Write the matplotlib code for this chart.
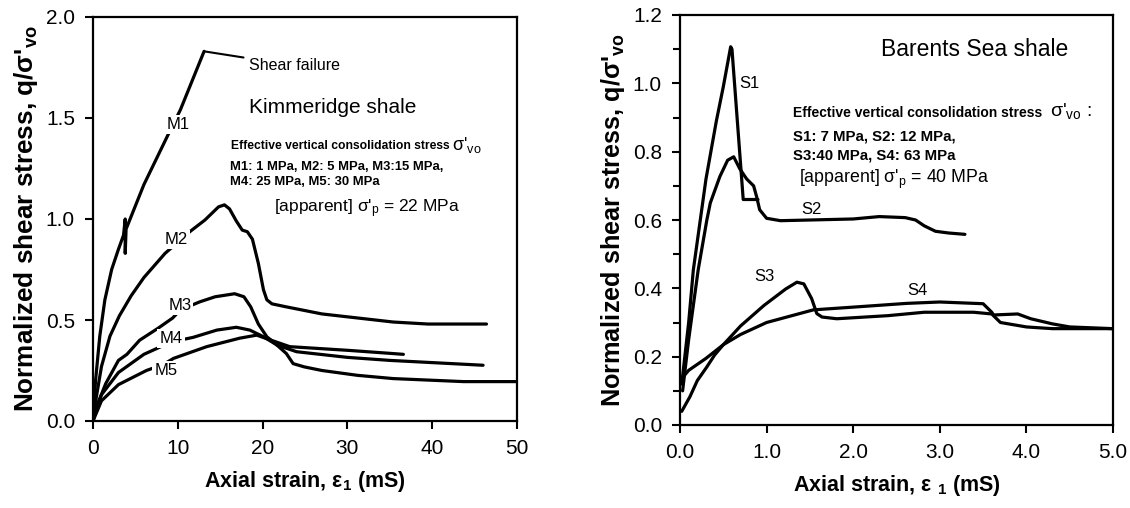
import matplotlib
matplotlib.use("Agg")
import matplotlib.pyplot as plt
from matplotlib.ticker import MultipleLocator

plt.rcParams['font.family'] = ['Liberation Sans', 'DejaVu Sans']
plt.rcParams['mathtext.fontset'] = 'custom'
plt.rcParams['mathtext.rm'] = 'Liberation Sans'
plt.rcParams['mathtext.it'] = 'Liberation Sans:italic'
plt.rcParams['mathtext.bf'] = 'Liberation Sans:bold'

# ---------------- Kimmeridge shale (left) ----------------
m1_x = [0, 0.3, 0.8, 1.4, 2.2, 3.0, 3.6, 3.8, 3.8, 3.9, 6.0, 9.0, 10.3, 13.1]
m1_y = [0, 0.20, 0.42, 0.60, 0.75, 0.85, 0.92, 1.00, 0.83, 0.95, 1.17, 1.43, 1.54, 1.83]

m2_x = [0, 0.4, 1.0, 2.0, 3.1, 4.5, 6.0, 8.5, 11.5, 13.2, 14.8, 15.5, 16.1, 16.9,
        17.6, 18.2, 18.8, 19.5, 20.1, 20.5, 21.1, 22.8, 27.0, 31.2, 35.4, 39.5, 46.4]
m2_y = [0, 0.12, 0.27, 0.42, 0.52, 0.62, 0.71, 0.83, 0.94, 0.995, 1.06, 1.07, 1.05, 0.99,
        0.945, 0.937, 0.90, 0.78, 0.65, 0.60, 0.58, 0.565, 0.53, 0.51, 0.49, 0.48, 0.48]

m3_x = [0, 0.5, 1.5, 3.0, 4.0, 5.5, 7.7, 9.4, 10.3, 12.6, 14.4, 16.7, 17.8, 18.6, 19.5,
        20.5, 21.5, 22.8, 23.6, 24.9, 27.0, 31.2, 35.4, 43.7, 50.0]
m3_y = [0, 0.08, 0.185, 0.30, 0.33, 0.40, 0.46, 0.51, 0.55, 0.59, 0.615, 0.63, 0.615, 0.565, 0.48,
        0.417, 0.383, 0.334, 0.284, 0.268, 0.25, 0.226, 0.21, 0.195, 0.195]

m4_x = [0, 0.5, 1.0, 3.0, 6.0, 8.1, 9.1, 11.8, 14.6, 16.9, 18.5, 20.1, 21.7, 24.0, 30.0, 35.0, 46.0]
m4_y = [0, 0.07, 0.13, 0.24, 0.33, 0.37, 0.39, 0.414, 0.45, 0.464, 0.45, 0.417, 0.376, 0.343, 0.315, 0.30, 0.276]

m5_x = [0, 0.5, 1.0, 3.0, 6.3, 8.3, 9.5, 13.4, 17.3, 19.3, 21.0, 23.2, 30.0, 35.0, 36.6]
m5_y = [0, 0.05, 0.10, 0.18, 0.25, 0.28, 0.31, 0.368, 0.41, 0.425, 0.40, 0.368, 0.35, 0.335, 0.33]

# ---------------- Barents Sea shale (right) ----------------
s1_x = [0.02, 0.1, 0.154, 0.3, 0.42, 0.5, 0.585, 0.6, 0.73, 0.9]
s1_y = [0.12, 0.30, 0.454, 0.72, 0.89, 0.99, 1.107, 1.10, 0.66, 0.66]

s2_x = [0.03, 0.1, 0.21, 0.31, 0.35, 0.46, 0.55, 0.62, 0.69, 0.77, 0.85, 0.885, 0.92, 1.0,
        1.16, 1.5, 2.0, 2.3, 2.6, 2.72, 2.82, 2.95, 3.1, 3.29]
s2_y = [0.10, 0.25, 0.454, 0.60, 0.65, 0.727, 0.775, 0.785, 0.75, 0.72, 0.70, 0.668, 0.63, 0.605,
        0.598, 0.60, 0.603, 0.61, 0.607, 0.60, 0.583, 0.567, 0.562, 0.558]

s3_x = [0.02, 0.115, 0.2, 0.31, 0.4, 0.5, 0.7, 0.97, 1.22, 1.35, 1.43, 1.52, 1.58, 1.64,
        1.81, 2.4, 2.82, 3.39, 3.6, 3.7, 4.0, 4.3, 5.0]
s3_y = [0.04, 0.083, 0.13, 0.17, 0.205, 0.235, 0.29, 0.35, 0.398, 0.418, 0.413, 0.37, 0.326, 0.316,
        0.311, 0.32, 0.33, 0.33, 0.325, 0.30, 0.287, 0.282, 0.282]

s4_x = [0.0, 0.1, 0.3, 0.5, 0.7, 1.0, 1.54, 2.0, 2.62, 3.0, 3.5, 3.6, 3.62, 3.9, 4.05, 4.3, 4.5, 5.0]
s4_y = [0.13, 0.16, 0.195, 0.235, 0.265, 0.30, 0.337, 0.345, 0.356, 0.36, 0.355, 0.33, 0.322, 0.325,
        0.311, 0.296, 0.287, 0.282]

left_xticks = [0, 10, 20, 30, 40, 50]
left_yticks = [0.0, 0.5, 1.0, 1.5, 2.0]
right_xticks = [0.0, 1.0, 2.0, 3.0, 4.0, 5.0]
right_yticks = [0.0, 0.2, 0.4, 0.6, 0.8, 1.0, 1.2]

fig = plt.figure(figsize=(11.3, 5.08), dpi=100)
axL = fig.add_axes([93/1130, 87/508, 424/1130, 404/508])
axR = fig.add_axes([680/1130, 83/508, 433/1130, 410/508])

LW = 2.3
lab_box = dict(facecolor='white', edgecolor='none', pad=1.5)

def style(ax):
    for s in ax.spines.values():
        s.set_linewidth(1.6)
    ax.tick_params(which='both', direction='out', width=1.5, labelsize=15, pad=7)
    ax.tick_params(which='major', length=6)
    ax.tick_params(which='minor', length=5)

# Left panel
for xs, ys in [(m1_x, m1_y), (m2_x, m2_y), (m3_x, m3_y), (m4_x, m4_y), (m5_x, m5_y)]:
    axL.plot(xs, ys, color='black', lw=LW, solid_joinstyle='round', solid_capstyle='round', zorder=2)
axL.set_xlim(0, 50)
axL.set_ylim(0, 2.0)
axL.set_xticks(left_xticks)
axL.set_xticklabels([f"{v:d}" for v in left_xticks])
axL.set_yticks(left_yticks)
axL.set_yticklabels([f"{v:.1f}" for v in left_yticks])
style(axL)
axL.set_xlabel(r"Axial strain, ε$_{\mathbf{1}}$ (mS)", fontsize=15.5, fontweight='bold', labelpad=8)
axL.set_ylabel(r"Normalized shear stress, q/σ'$_{\mathbf{vo}}$", fontsize=18.8, fontweight='bold', labelpad=4)

for name, (tx, ty) in {'M1': (10.0, 1.47), 'M2': (9.8, 0.90), 'M3': (10.25, 0.57),
                       'M4': (9.2, 0.41), 'M5': (8.6, 0.25)}.items():
    axL.text(tx, ty, name, fontsize=12, ha='center', va='center', bbox=lab_box, zorder=5)

axL.annotate("Shear failure", xy=(13.1, 1.83), xytext=(18.4, 1.76), fontsize=11.5,
             va='center', ha='left', arrowprops=dict(arrowstyle='-', lw=1.5, shrinkA=2, shrinkB=0))
axL.text(18.4, 1.55, "Kimmeridge shale", fontsize=15, va='center', ha='left')
axL.text(16.3, 1.36, "Effective vertical consolidation stress", fontsize=8.7,
         fontweight='bold', va='center', ha='left')
axL.text(42.3, 1.365, r"σ'$_{\mathrm{vo}}$", fontsize=13, va='center', ha='left')
axL.text(16.1, 1.255, "M1: 1 MPa, M2: 5 MPa, M3:15 MPa,", fontsize=9.4, fontweight='bold', va='center', ha='left')
axL.text(16.1, 1.185, "M4: 25 MPa, M5: 30 MPa", fontsize=9.4, fontweight='bold', va='center', ha='left')
axL.text(21.3, 1.05, r"[apparent] σ'$_{\mathrm{p}}$ = 22 MPa", fontsize=12.5, va='center', ha='left')

# Right panel
for xs, ys in [(s1_x, s1_y), (s2_x, s2_y), (s3_x, s3_y), (s4_x, s4_y)]:
    axR.plot(xs, ys, color='black', lw=LW, solid_joinstyle='round', solid_capstyle='round', zorder=2)
axR.set_xlim(0, 5.0)
axR.set_ylim(0, 1.2)
axR.set_xticks(right_xticks)
axR.set_xticklabels([f"{v:.1f}" for v in right_xticks])
axR.set_yticks(right_yticks)
axR.set_yticklabels([f"{v:.1f}" for v in right_yticks])
axR.yaxis.set_minor_locator(MultipleLocator(0.1))
style(axR)
axR.set_xlabel(r"Axial strain, ε $_{\mathbf{1}}$ (mS)", fontsize=15.5, fontweight='bold', labelpad=8)
axR.set_ylabel(r"Normalized shear stress, q/σ'$_{\mathbf{vo}}$", fontsize=18.2, fontweight='bold', labelpad=4)

for name, (tx, ty) in {'S1': (0.8, 1.0), 'S2': (1.52, 0.63), 'S3': (0.97, 0.435),
                       'S4': (2.74, 0.395)}.items():
    axR.text(tx, ty, name, fontsize=12, ha='center', va='center', zorder=5)

axR.text(2.32, 1.10, "Barents Sea shale", fontsize=16.5, va='center', ha='left')
axR.text(1.3, 0.913, "Effective vertical consolidation stress", fontsize=10,
         fontweight='bold', va='center', ha='left')
axR.text(4.27, 0.918, r"σ'$_{\mathrm{vo}}$ :", fontsize=14, va='center', ha='left')
axR.text(1.3, 0.845, "S1: 7 MPa, S2: 12 MPa,", fontsize=10.8, fontweight='bold', va='center', ha='left')
axR.text(1.3, 0.79, "S3:40 MPa, S4: 63 MPa", fontsize=10.8, fontweight='bold', va='center', ha='left')
axR.text(1.37, 0.72, r"[apparent] σ'$_{\mathrm{p}}$ = 40 MPa", fontsize=12.8, va='center', ha='left')

fig.savefig("out.png", dpi=100)
